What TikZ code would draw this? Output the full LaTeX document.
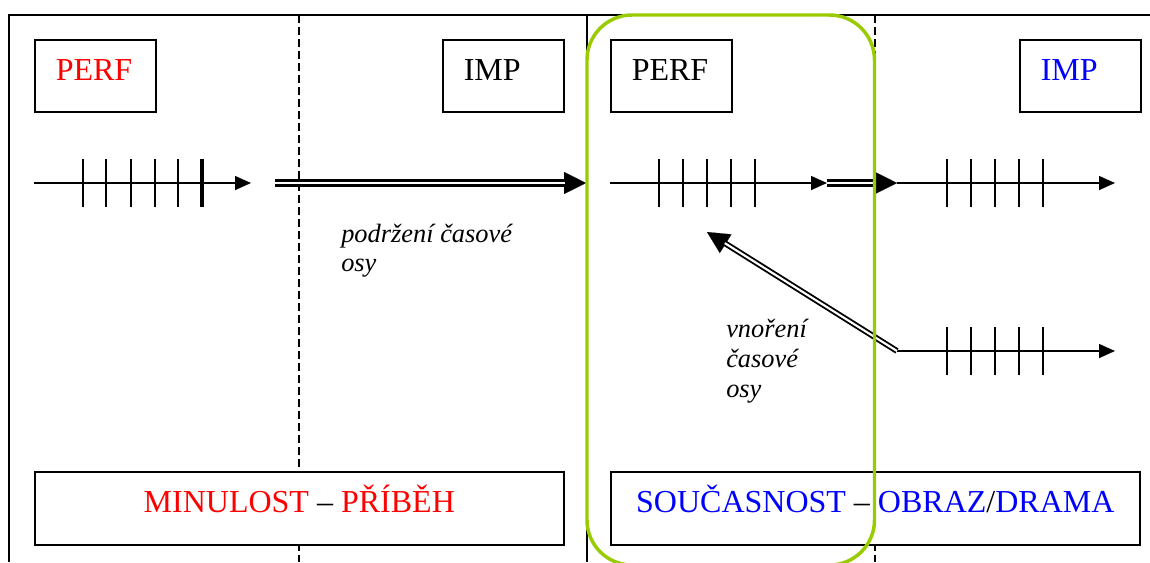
\documentclass[tikz,border=0pt]{standalone}
\usepackage{fontspec}
\setmainfont{Liberation Serif}
\usetikzlibrary{arrows.meta,calc}
\definecolor{frameGreen}{RGB}{153,204,0}
\definecolor{txtRed}{RGB}{255,0,0}
\definecolor{txtBlue}{RGB}{0,0,255}
\tikzset{
  frameline/.style={line width=1.1pt},
  divider/.style={line width=1.0pt, dash pattern=on 6pt off 3pt},
  tagbox/.style={draw, line width=1.2pt, fill=white, anchor=north west,
    minimum width=90.75pt, minimum height=54pt, inner xsep=15.75pt, inner ysep=0pt,
    text width=59.25pt, align=left, text height=15.75pt, text depth=8.25pt,
    font=\fontsize{24}{28}\selectfont},
  bigbox/.style={draw, line width=1.2pt, fill=white, anchor=north west,
    minimum width=396.75pt, minimum height=54.75pt, inner sep=0pt,
    text height=15.75pt, text depth=9.45pt, font=\fontsize{24}{28}\selectfont},
  timeline/.style={line width=1.1pt, -{Triangle[length=12pt,width=10.5pt]}},
  tickmark/.style={line width=1.1pt},
  thicktick/.style={line width=2.3pt},
  dblline/.style={double, line width=1.7pt, double distance=1.9pt},
  bigtip/.style={line width=0.1pt, -{Triangle[length=16.5pt,width=16.5pt]}},
  caption/.style={anchor=base west, inner sep=0pt, font=\fontsize{19.8}{22}\selectfont\itshape},
}
\begin{document}
\begin{tikzpicture}[x=0.75pt,y=-0.75pt]
\useasboundingbox (0,0) rectangle (1150,562);
% frame and dividers
\coordinate (ftl) at (9,15);
\coordinate (ftr) at (1150,15);
\coordinate (fbl) at (9,562);
\coordinate (mt) at (587,15);
\coordinate (mb) at (587,562);
\coordinate (d1t) at (299,15);
\coordinate (d1b) at (299,562);
\coordinate (d2t) at (875,15);
\coordinate (d2b) at (875,562);
\draw[frameline] (fbl) -- (ftl) -- (ftr);
\draw[frameline] (mt) -- (mb);
\draw[divider] (d1t) -- (d1b);
\draw[divider] (d2t) -- (d2b);

% label boxes
\node[tagbox] (perfL) at (34,39) {\textcolor{txtRed}{PERF}};
\node[tagbox] (impL) at (442,39) {IMP};
\node[tagbox] (perfR) at (610,39) {PERF};
\node[tagbox] (impR) at (1019,39) {\textcolor{txtBlue}{IMP}};

\node[bigbox] (past) at (34,471) {\textcolor{txtRed}{MINULOST} – \textcolor{txtRed}{PŘÍBĚH}};
\node[bigbox] (present) at (610,471) {\textcolor{txtBlue}{SOUČASNOST} – \textcolor{txtBlue}{OBRAZ}/\textcolor{txtBlue}{DRAMA}};

% row 1 left timeline
\coordinate (a1s) at (34,183);
\coordinate (a1e) at (251,183);
\draw[timeline] (a1s) -- (a1e);
\foreach \x in {83,106,131,155,178} \draw[tickmark] (\x,159) -- (\x,207);
\draw[thicktick] (202,159) -- (202,207);

% holding double arrow
\coordinate (h1s) at (275,183);
\coordinate (h1e) at (586,183);
\coordinate (h1t) at (540,183);
\draw[bigtip] (h1t) -- (h1e);
\draw[dblline, shorten >=15.75pt] (h1s) -- (h1e);

% row 1 right timelines
\coordinate (a2s) at (610,183);
\coordinate (a2e) at (827,183);
\draw[timeline] (a2s) -- (a2e);
\foreach \x in {659,683,707,731,755} \draw[tickmark] (\x,159) -- (\x,207);

\coordinate (h2e) at (897,183);
\coordinate (h2t) at (860,183);
\draw[bigtip] (h2t) -- (h2e);
\draw[dblline, shorten >=15.75pt] (a2e) -- (h2e);

\coordinate (a3e) at (1115,183);
\draw[timeline] (h2e) -- (a3e);
\foreach \x in {947,971,995,1019,1043} \draw[tickmark] (\x,159) -- (\x,207);

% row 2 timeline
\coordinate (a4s) at (897,351);
\coordinate (a4e) at (1115,351);
\draw[timeline] (a4s) -- (a4e);
\foreach \x in {947,971,995,1019,1043} \draw[tickmark] (\x,327) -- (\x,375);

% embedding double arrow
\coordinate (embE) at (707,232);
\coordinate (embT) at ($(embE)!30pt!(a4s)$);
\draw[bigtip] (embT) -- (embE);
\draw[dblline, line width=1.4pt, double distance=1.6pt, shorten >=15.75pt] (a4s) -- (embE);

% captions
\node[caption] (hold1) at (341,242) {podržení časové};
\node[caption] (hold2) at (341,271) {osy};
\node[caption] (emb1) at (726,337) {vnoření};
\node[caption] (emb2) at (726,367) {časové};
\node[caption] (emb3) at (726,397) {osy};

% green highlight
\draw[frameGreen, line width=2.6pt, rounded corners=33.75pt] (587,15) rectangle (874.5,565);
\end{tikzpicture}
\end{document}
